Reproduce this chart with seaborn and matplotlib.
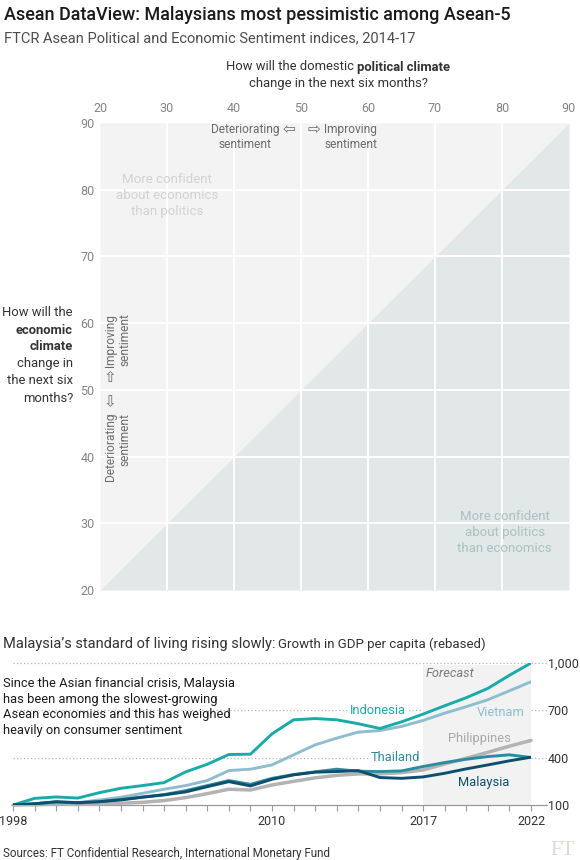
import matplotlib
matplotlib.use('Agg')
import matplotlib.pyplot as plt
import seaborn as sns
import pandas as pd

# ---------------- data ----------------
years = [1998, 1999, 2000, 2001, 2002, 2003, 2004, 2005, 2006, 2007, 2008, 2009,
         2010, 2011, 2012, 2013, 2014, 2015, 2016, 2017, 2018, 2019, 2020, 2021, 2022]
indonesia = [100, 142, 151, 144, 178, 206, 223, 242, 310, 358, 420, 422, 551, 640,
             648, 640, 615, 585, 627, 676, 729, 780, 839, 922, 1000]
vietnam = [100, 104, 111, 115, 132, 149, 174, 200, 223, 255, 318, 327, 354, 418,
           481, 524, 562, 572, 598, 636, 682, 723, 767, 824, 881]
philippines = [100, 102, 106, 104, 106, 111, 117, 128, 147, 172, 200, 195, 227, 250,
               272, 288, 297, 297, 305, 322, 360, 396, 434, 473, 509]
thailand = [100, 108, 119, 113, 121, 136, 151, 166, 191, 223, 255, 231, 269, 293,
            310, 327, 314, 312, 316, 344, 369, 390, 407, 418, 401]
malaysia = [100, 108, 121, 115, 121, 132, 149, 164, 183, 216, 248, 221, 263, 291,
            308, 312, 318, 274, 269, 278, 301, 329, 354, 380, 403]
countries = ['Philippines', 'Vietnam', 'Indonesia', 'Thailand', 'Malaysia']
series = {'Indonesia': indonesia, 'Vietnam': vietnam, 'Philippines': philippines,
          'Thailand': thailand, 'Malaysia': malaysia}
colors = {'Indonesia': '#19aba7', 'Vietnam': '#8fbdd0', 'Philippines': '#b3b3b3',
          'Thailand': '#2b8c9f', 'Malaysia': '#0e4f6d'}
line_ticks = [100, 400, 700, 1000]
line_tick_labels = ['100', '400', '700', '1,000']
year_labels = [1998, 2010, 2017, 2022]
forecast_start, forecast_end = 2017, 2022

sent_ticks = [20, 30, 40, 50, 60, 70, 80, 90]

# ---------------- style ----------------
sns.set_theme(style='white')
plt.rcParams['font.family'] = ['Roboto', 'DejaVu Sans']

W, H = 580, 860
fig = plt.figure(figsize=(W / 100, H / 100), dpi=100)
fig.patch.set_facecolor('white')


def fx(px):
    return px / W


def fy(py):
    return 1 - py / H


def rich(parts, x, y, ha='left', va='center', gap=3.5):
    r = fig.canvas.get_renderer()
    objs = []
    for s, props in parts:
        t = fig.text(0, fy(y), s, ha='left', va=va, **props)
        objs.append(t)
    widths = [t.get_window_extent(r).width for t in objs]
    total = sum(widths) + gap * (len(objs) - 1)
    if ha == 'center':
        cur = x - total / 2
    elif ha == 'right':
        cur = x - total
    else:
        cur = x
    for t, w in zip(objs, widths):
        t.set_x(fx(cur))
        cur += w + gap


# ---------------- titles ----------------
fig.text(fx(4), fy(15), 'Asean DataView: Malaysians most pessimistic among Asean-5',
         fontsize=13, fontweight='medium', color='#1a1a1a', va='center')
fig.text(fx(4), fy(38), 'FTCR Asean Political and Economic Sentiment indices, 2014-17',
         fontsize=10.5, color='#4d4d4d', va='center')

# ---------------- sentiment chart ----------------
ax1 = fig.add_axes([fx(100), fy(590), (569 - 100) / W, (590 - 123) / H])
ax1.set_xlim(20, 90)
ax1.set_ylim(20, 90)
ax1.fill_between([20, 90], [20, 90], [90, 90], color='#f3f3f3', lw=0, zorder=0)
ax1.fill_between([20, 90], [20, 20], [20, 90], color='#e2e7e7', lw=0, zorder=0)
for v in sent_ticks[1:-1]:
    ax1.axvline(v, color='white', lw=1.4, zorder=1)
    ax1.axhline(v, color='white', lw=1.4, zorder=1)
sns.despine(ax=ax1, left=True, bottom=True, top=True, right=True)
ax1.set_xticks(sent_ticks)
ax1.set_yticks(sent_ticks)
ax1.xaxis.tick_top()
ax1.tick_params(axis='both', length=0, labelsize=9, labelcolor='#858585')
ax1.tick_params(axis='x', pad=6)
ax1.tick_params(axis='y', pad=4)

ax1.text(30, 79.2, 'More confident\nabout economics\nthan politics', ha='center',
         va='center', color='#d2d2d2', fontsize=9.5, linespacing=1.3)
ax1.text(80.4, 28.6, 'More confident\nabout politics\nthan economics', ha='center',
         va='center', color='#a9c2c2', fontsize=9.5, linespacing=1.3)

sc = dict(color='#6b6b6b', fontsize=8.6)
arr = dict(color='#6b6b6b', fontsize=11, family=['DejaVu Sans'])
# horizontal sentiment hints
ax1.text(46.8, 89.1, 'Deteriorating', ha='right', va='center', **sc)
ax1.text(48.2, 89.1, '\u21e6', ha='center', va='center', **arr)
ax1.text(41.6, 86.85, 'sentiment', ha='center', va='center', **sc)
ax1.text(51.9, 89.1, '\u21e8', ha='center', va='center', **arr)
ax1.text(53.4, 89.1, 'Improving', ha='left', va='center', **sc)
ax1.text(57.5, 86.85, 'sentiment', ha='center', va='center', **sc)
# vertical sentiment hints
ax1.text(21.5, 51.9, '\u21e7', ha='center', va='center', **arr)
ax1.text(21.5, 53.5, 'Improving', ha='center', va='bottom', rotation=90, **sc)
ax1.text(23.7, 57.6, 'sentiment', ha='center', va='center', rotation=90, **sc)
ax1.text(21.5, 48.2, '\u21e9', ha='center', va='center', **arr)
ax1.text(21.5, 46.6, 'Deteriorating', ha='center', va='top', rotation=90, **sc)
ax1.text(23.7, 42.6, 'sentiment', ha='center', va='center', rotation=90, **sc)

# axis captions
lab = dict(fontsize=9.4, color='#333333')
rich([('How will the domestic', lab), ('political climate', dict(lab, fontweight='bold'))],
     338, 67, ha='center')
fig.text(fx(338), fy(84), 'change in the next six months?', ha='center', va='center', **lab)
left_lines = [('How will the', 'normal'), ('economic', 'bold'), ('climate', 'bold'),
              ('change in', 'normal'), ('the next six', 'normal'), ('months?', 'normal')]
for i, (s, w) in enumerate(left_lines):
    fig.text(fx(73), fy(313 + 17 * i), s, ha='right', va='center', fontweight=w, **lab)

# ---------------- GDP chart ----------------
rich([("Malaysia\u2019s standard of living rising slowly:", dict(fontsize=10.5, color='#333333')),
      ('Growth in GDP per capita (rebased)', dict(fontsize=9.5, color='#333333'))],
     3, 644, ha='left', gap=3)

fig.text(fx(3), fy(707), 'Since the Asian financial crisis, Malaysia\nhas been among the slowest-growing\n'
         'Asean economies and this has weighed\nheavily on consumer sentiment',
         ha='left', va='center', fontsize=9.3, color='#1a1a1a', linespacing=1.28)

ax2 = fig.add_axes([fx(13), fy(805), (531 - 13) / W, (805 - 663) / H])
ax2.set_xlim(1998, 2022)
ax2.set_ylim(100, 1000)
ax2.patch.set_alpha(0)

rows = []
for c in countries:
    for yr, v in zip(years, series[c]):
        rows.append({'year': yr, 'value': v, 'country': c})
df = pd.DataFrame(rows)

ax2.fill_between([forecast_start, forecast_end], [100, 100], [985, 985],
                 color='#f2f2f2', lw=0, zorder=0.5)
for v in line_ticks[1:]:
    ax2.axhline(v, xmin=0, xmax=1.03, ls=(0, (1, 1.8)), color='#b5b5b5', lw=0.9,
                clip_on=False, zorder=0.3)
ax2.axhline(100, xmin=0, xmax=1.03, color='#999999', lw=0.9, clip_on=False, zorder=0.6)

sns.lineplot(data=df, x='year', y='value', hue='country', hue_order=countries,
             palette=colors, linewidth=2.1, legend=False, ax=ax2, zorder=3)
for ln, c in zip(ax2.lines, countries):
    ln.set_clip_on(False)
    ln.set_solid_joinstyle('round')
    if c == 'Malaysia':
        ln.set_linewidth(2.5)

sns.despine(ax=ax2, left=True, bottom=True, top=True, right=True)
ax2.set_xticks(years)
ax2.set_xticklabels([str(y) if y in year_labels else '' for y in years])
ax2.tick_params(axis='x', length=4.5, width=0.8, color='#999999', direction='out',
                labelsize=9, labelcolor='#333333', pad=3, bottom=True)
ax2.yaxis.tick_right()
ax2.set_yticks(line_ticks)
ax2.set_yticklabels(line_tick_labels)
ax2.tick_params(axis='y', length=0, labelsize=9, labelcolor='#333333', pad=12)
ax2.set_xlabel('')
ax2.set_ylabel('')

lbl = dict(fontsize=9.3, ha='center', va='center')
ax2.text(2014.9, 700, 'Indonesia', color=colors['Indonesia'],
         bbox=dict(facecolor='white', edgecolor='none', pad=1.5), zorder=2, **lbl)
ax2.text(2020.6, 688, 'Vietnam', color=colors['Vietnam'], zorder=2, **lbl)
ax2.text(2019.6, 520, 'Philippines', color='#a8a8a8', zorder=2, **lbl)
ax2.text(2015.7, 400, 'Thailand', color=colors['Thailand'],
         bbox=dict(facecolor='white', edgecolor='none', pad=1.5), zorder=2, **lbl)
ax2.text(2019.8, 240, 'Malaysia', color=colors['Malaysia'], zorder=4, **lbl)
ax2.text(2018.25, 932, 'Forecast', color='#7a7a7a', fontstyle='italic', zorder=2, **lbl)

fig.text(fx(3), fy(853), 'Sources: FT Confidential Research, International Monetary Fund',
         ha='left', va='center', fontsize=8.4, color='#333333')
fig.text(fx(575), fy(855), 'FT', ha='right', va='baseline', fontsize=15,
         family=['Liberation Serif', 'DejaVu Serif'], color='#e3d9d2')

fig.savefig('out.png', dpi=100, facecolor='white')
